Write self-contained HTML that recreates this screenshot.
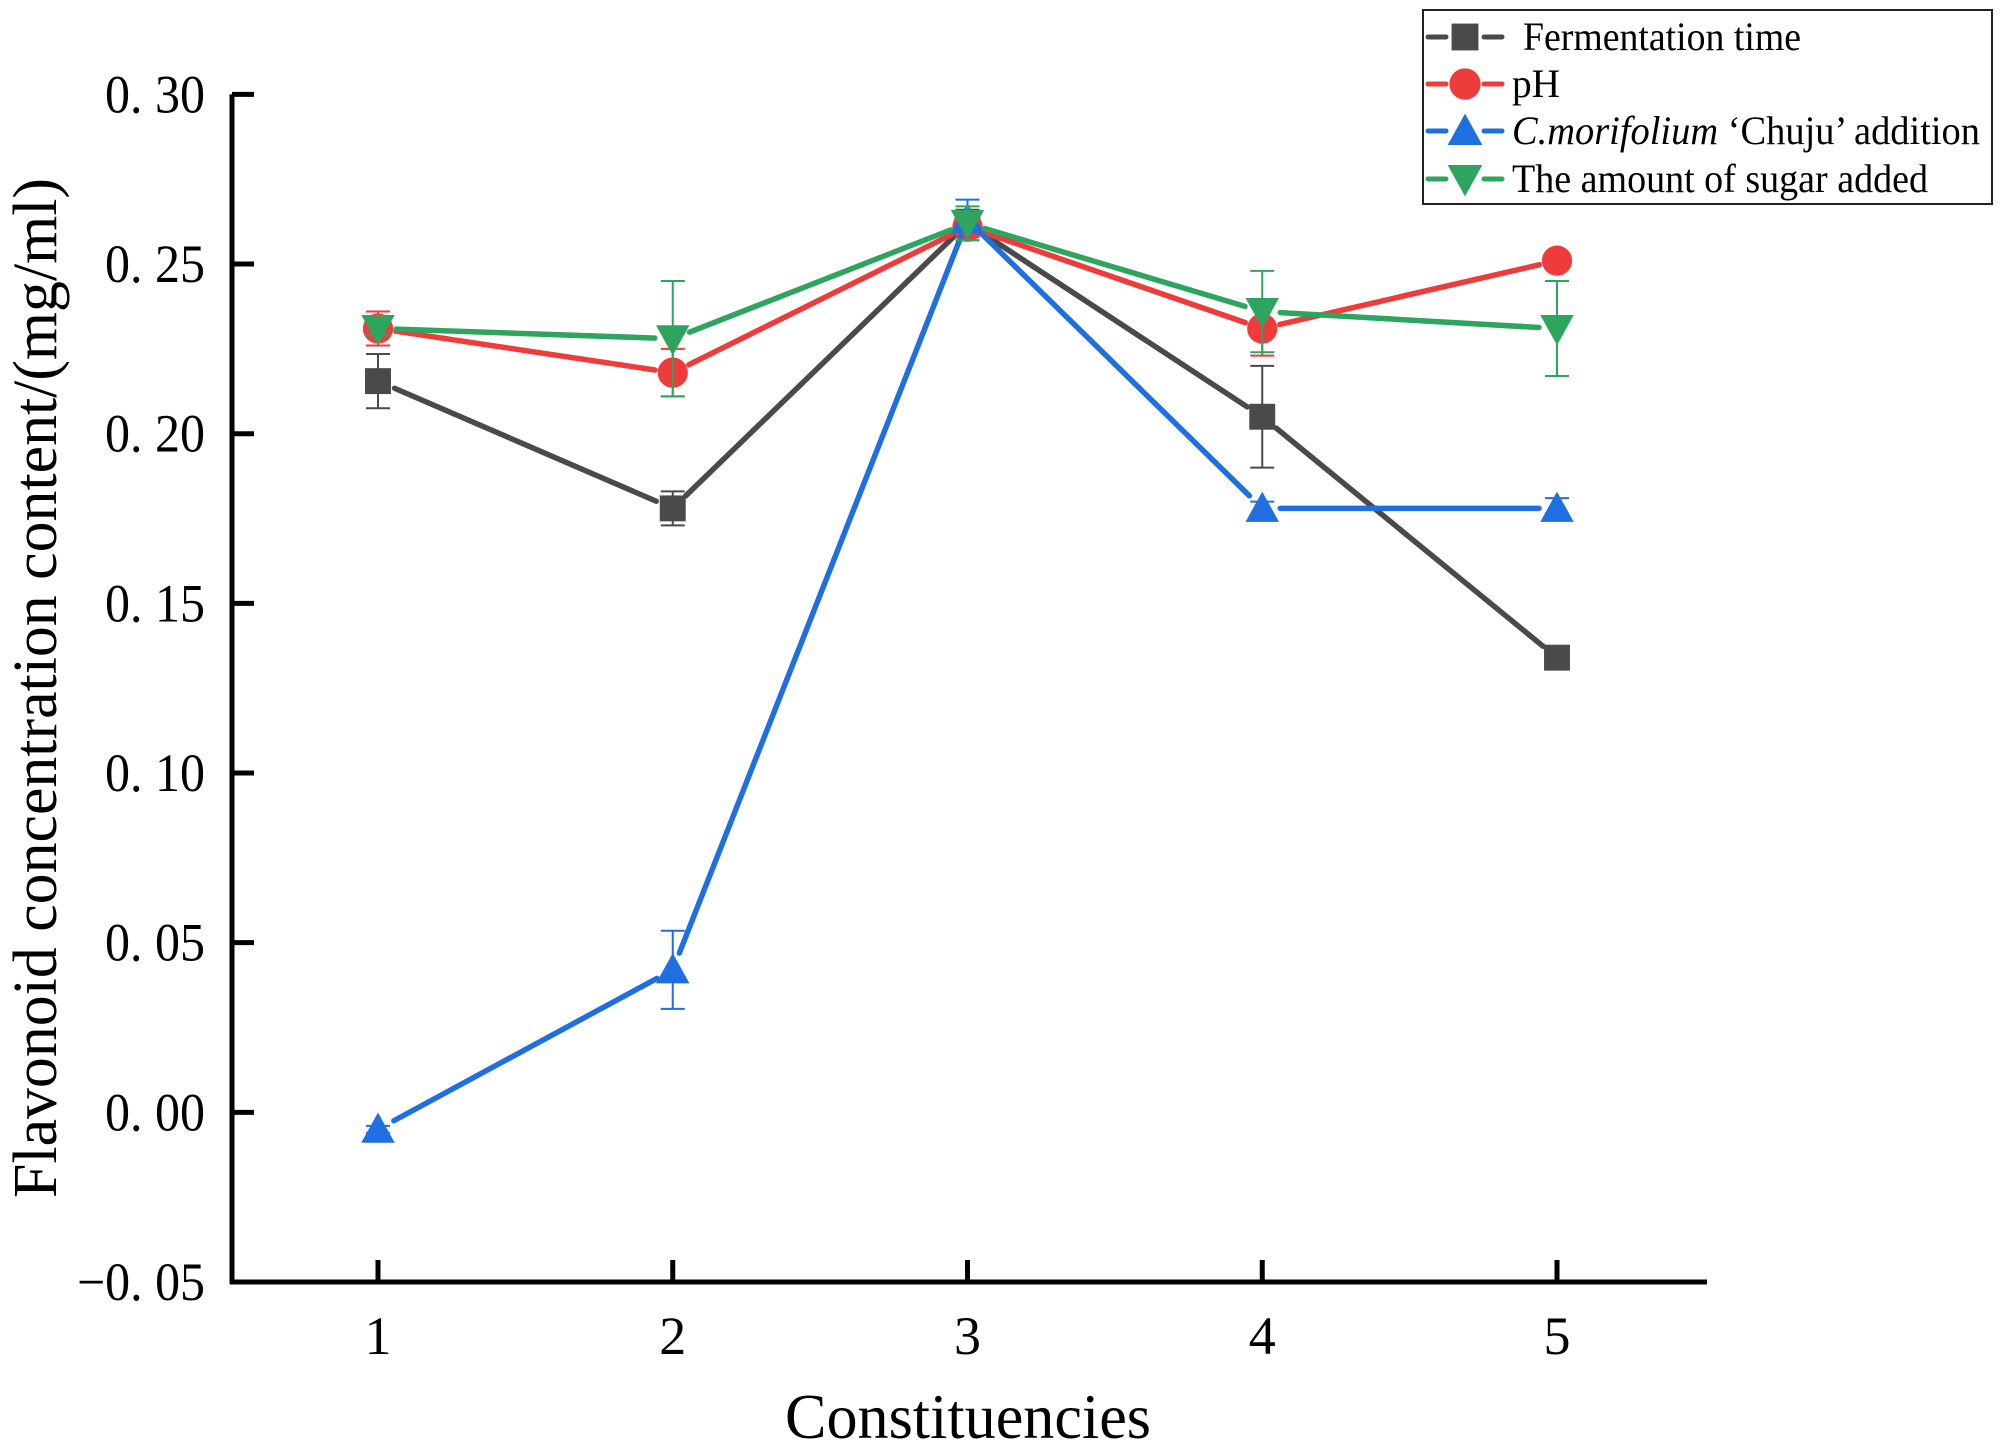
<!DOCTYPE html>
<html><head><meta charset="utf-8"><style>
html,body{margin:0;padding:0;background:#fff;}
svg{display:block;font-family:"Liberation Serif","Noto Serif CJK SC",serif;}
</style></head><body>
<svg id="chart" width="2000" height="1448" viewBox="0 0 2000 1448" xmlns="http://www.w3.org/2000/svg">
<g id="axes"></g>
<g id="plot"></g>
<text transform="translate(56,688) rotate(-90)" text-anchor="middle" font-size="62" fill="#000" textLength="1020" lengthAdjust="spacingAndGlyphs">Flavonoid concentration content/(mg/ml)</text>
<text x="968" y="1438" text-anchor="middle" font-size="64" fill="#000" textLength="366" lengthAdjust="spacingAndGlyphs">Constituencies</text>
<g>
<rect x="1423" y="10" width="569" height="194" fill="#fff" stroke="#222" stroke-width="2"/>
<g id="legend-items"></g>
</g>
</svg>
<script>
const categories = [1, 2, 3, 4, 5];
const yTicks = [-0.05, 0.00, 0.05, 0.10, 0.15, 0.20, 0.25, 0.30];
const yTickLabels = ["\u22120. 05", "0. 00", "0. 05", "0. 10", "0. 15", "0. 20", "0. 25", "0. 30"];
const fermentation = [0.2155, 0.178, 0.262, 0.205, 0.134];
const fermentationErr = [0.008, 0.005, 0.004, 0.015, 0.001];
const ph = [0.231, 0.218, 0.261, 0.231, 0.251];
const phErr = [0.005, 0.007, 0.003, 0.008, 0.001];
const chuju = [-0.005, 0.042, 0.263, 0.178, 0.178];
const chujuErr = [0.001, 0.0115, 0.006, 0.002, 0.003];
const sugar = [0.231, 0.228, 0.262, 0.236, 0.231];
const sugarErr = [0.002, 0.017, 0.005, 0.012, 0.014];
const seriesNames = ["Fermentation time", "pH", "C.morifolium \u2018Chuju\u2019 addition", "The amount of sugar added"];

const NS = "http://www.w3.org/2000/svg";
const x0 = 232, x1 = 1707, yTop = 94.4, yBot = 1282;
function xScale(c){ return 378 + (c - 1) * 294.75; }
function yScale(v){ return yBot - (v - (-0.05)) / 0.35 * (yBot - yTop); }
function mk(tag, attrs, parent){ const e = document.createElementNS(NS, tag); for (const k in attrs) e.setAttribute(k, attrs[k]); parent.appendChild(e); return e; }

const axes = document.getElementById('axes');
let yl = mk('line', {x1:x0, y1:yTop, x2:x0, y2:yBot+2, stroke:'#000','stroke-width':5}, axes);


let xl = mk('line', {x1:x0-2, y1:yBot, x2:x1, y2:yBot, stroke:'#000','stroke-width':5}, axes);


yTicks.forEach((t, i) => {
  const y = yScale(t);
  const tk = mk('line', {x1:x0, y1:y, x2:x0+22, y2:y, stroke:'#000','stroke-width':5}, axes);
  
  
  const neg = yTickLabels[i].startsWith('\u2212');
  const tx = mk('text', {x:205, y:y+18, 'text-anchor':'end', 'font-size':54, fill:'#000', textLength: neg ? 128 : 100, lengthAdjust:'spacingAndGlyphs'}, axes);
  tx.textContent = yTickLabels[i];
  
  
});
categories.forEach(c => {
  const x = xScale(c);
  const tk = mk('line', {x1:x, y1:yBot, x2:x, y2:yBot-22, stroke:'#000','stroke-width':5}, axes);
  
  
  const tx = mk('text', {x:x, y:1354, 'text-anchor':'middle', 'font-size':54, fill:'#000'}, axes);
  tx.textContent = String(c);
  
  
});

function marker(shape, cx, cy, color, parent, s){
  let e;
  if (shape === 'square') e = mk('rect', {x:cx-s*0.48, y:cy-s*0.48, width:s*0.96, height:s*0.96, fill:color}, parent);
  else if (shape === 'circle') e = mk('circle', {cx:cx, cy:cy, r:s*0.56, fill:color}, parent);
  else if (shape === 'up') e = mk('polygon', {points:`${cx},${cy-s*0.62} ${cx-s*0.62},${cy+s*0.5} ${cx+s*0.62},${cy+s*0.5}`, fill:color}, parent);
  else e = mk('polygon', {points:`${cx},${cy+s*0.62} ${cx-s*0.62},${cy-s*0.5} ${cx+s*0.62},${cy-s*0.5}`, fill:color}, parent);
  return e;
}

const plot = document.getElementById('plot');
const series = [
  {vals:fermentation, err:fermentationErr, color:'#4a4a4a', shape:'square', name:'series-fermentation-time'},
  {vals:ph, err:phErr, color:'#ee3b3b', shape:'circle', name:'series-ph'},
  {vals:chuju, err:chujuErr, color:'#1f6fe0', shape:'up', name:'series-chuju-addition'},
  {vals:sugar, err:sugarErr, color:'#2ea55f', shape:'down', name:'series-sugar-added'}
];
series.forEach(s => {
  const g = mk('g', {}, plot);
  
  
  const pts = s.vals.map((v, i) => [xScale(categories[i]), yScale(v)]);
  for (let i = 0; i < pts.length - 1; i++) {
    const [ax, ay] = pts[i], [bx, by] = pts[i+1];
    const dx = bx - ax, dy = by - ay, L = Math.hypot(dx, dy), gap = 18;
    const seg = mk('line', {x1:ax+dx/L*gap, y1:ay+dy/L*gap, x2:bx-dx/L*gap, y2:by-dy/L*gap, stroke:s.color,'stroke-width':5.5,'stroke-linecap':'round'}, g);
    
    
  }
  s.vals.forEach((v, i) => {
    const x = xScale(categories[i]);
    const yh = yScale(v + s.err[i]), yl2 = yScale(v - s.err[i]);
    const eb = mk('path', {d:`M${x},${yh}V${yl2}M${x-12},${yh}H${x+12}M${x-12},${yl2}H${x+12}`, stroke:s.color,'stroke-width':2, fill:'none'}, g);
    
    
    const m = marker(s.shape, x, yScale(v), s.color, g, 27);
    
    
  });
});

const leg = document.getElementById('legend-items');
const rowsY = [37, 84, 131, 179];
const legLens = [278, 48, 468, 416];
series.forEach((s, i) => {
  const y = rowsY[i];
  const g = mk('g', {}, leg);
  
  
  mk('line', {x1:1428, y1:y, x2:1446, y2:y, stroke:s.color,'stroke-width':5,'stroke-linecap':'round'}, g);
  mk('line', {x1:1484, y1:y, x2:1502, y2:y, stroke:s.color,'stroke-width':5,'stroke-linecap':'round'}, g);
  marker(s.shape, 1465, y, s.color, g, 28);
  const t = mk('text', {x: i === 0 ? 1523 : 1512, y:y+13, 'font-size':40, fill:'#000', textLength:legLens[i], lengthAdjust:'spacingAndGlyphs'}, g);
  if (i === 2) {
    const it = mk('tspan', {'font-style':'italic'}, t); it.textContent = 'C.morifolium';
    const rest = mk('tspan', {}, t); rest.textContent = ' \u2018Chuju\u2019 addition';
  } else t.textContent = seriesNames[i];
});
</script>
</body></html>
